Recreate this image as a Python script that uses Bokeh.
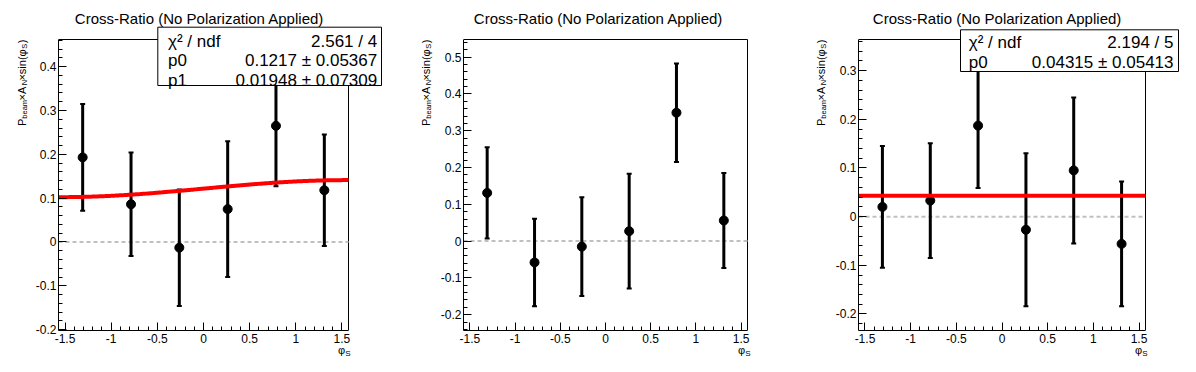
import numpy as np
from bokeh.plotting import figure
from bokeh.layouts import row
from bokeh.models import Label, BoxAnnotation, LinearAxis, FixedTicker, Range1d
from bokeh.embed import file_html
from bokeh.resources import INLINE

# ---------------- data ----------------
phi_s = [-1.309, -0.785, -0.262, 0.262, 0.785, 1.309]

ratio_1 = [0.193, 0.086, -0.013, 0.075, 0.265, 0.118]
error_1 = [0.122, 0.118, 0.133, 0.155, 0.138, 0.127]

ratio_2 = [0.131, -0.058, -0.015, 0.027, 0.349, 0.056]
error_2 = [0.124, 0.119, 0.134, 0.156, 0.134, 0.129]

ratio_3 = [0.020, 0.033, 0.187, -0.027, 0.095, -0.056]
error_3 = [0.125, 0.118, 0.128, 0.157, 0.150, 0.128]

# fit results shown in the stat boxes (p0 + p1*sin(phi_S), and p0)
fit_1_p0 = 0.1217
fit_1_p1 = 0.01948
fit_3_p0 = 0.04315

stat_1_names = ["χ² / ndf", "p0", "p1"]
stat_1_values = ["2.561 / 4", "0.1217 ± 0.05367", "0.01948 ± 0.07309"]
stat_3_names = ["χ² / ndf", "p0"]
stat_3_values = ["2.194 / 5", "0.04315 ± 0.05413"]

title_text = "Cross-Ratio (No Polarization Applied)"
x_tick_values = [-1.5, -1.0, -0.5, 0.0, 0.5, 1.0, 1.5]
x_tick_labels = ["-1.5", "-1", "-0.5", "0", "0.5", "1", "1.5"]
y_tick_values = [-0.2, -0.1, 0.0, 0.1, 0.2, 0.3, 0.4, 0.5]
y_tick_labels = ["-0.2", "-0.1", "0", "0.1", "0.2", "0.3", "0.4", "0.5"]

x_limits = (-np.pi / 2, np.pi / 2)
y_limits = [(-0.202, 0.462), (-0.243, 0.548), (-0.234, 0.364)]

# ---------------- layout (pixels, canvas of each figure) ----------------
FONT = "Liberation Sans"
H = 356
ROOT_TOP, ROOT_BOTTOM = 39, 330
widths = [408, 376, 396]
root_left = [58, 55, 74]
root_right = [348, 339, 361]
border_right = [24, 24, 0]
title_x = [199, 190, 213]
ylabel_x = [21.5, 17.0, 36.7]
xlabel_right = [350, 342, 363]
xlabel_side = ["right", "right", "left"]

NB = "\u00a0"
W_EM = {"S": .667}


def text_w(s, size):
    return sum(W_EM.get(c, .556) for c in s) * size


def lab(text, x, y, size, align="left", angle=0.0, color="black"):
    return Label(x=x, y=y, x_units="canvas", y_units="canvas", text=text,
                 angle=angle, text_align=align, text_baseline="alphabetic",
                 text_font=FONT, text_font_size=f"{size}px", text_color=color)


# y-axis title "P_beam × A_N × sin(phi_S)": main text + subscript line
Y_MAIN = "P" + NB * 6 + "×A" + NB * 2 + "×sin(φ" + NB * 2 + ")"
Y_SUBS = "beam" + NB * 7 + "N" + NB * 15 + "S" + NB * 2

x_minor_all = [round(v, 2) for v in np.arange(-1.5, 1.51, 0.1)]
y_minor_all = [round(v, 3) for v in np.arange(-0.24, 0.56, 0.02)]


def make_panel(i, ys, es):
    w = widths[i]
    ylo, yhi = y_limits[i]
    frame_right = w - border_right[i]
    sx = (root_right[i] - root_left[i]) / (x_limits[1] - x_limits[0])
    sy = (ROOT_BOTTOM - ROOT_TOP) / (yhi - ylo)
    x_end = x_limits[1] + (frame_right - root_right[i]) / sx
    y_end = yhi + ROOT_TOP / sy

    p = figure(width=w, height=H, x_range=Range1d(x_limits[0], x_end),
               y_range=Range1d(ylo, y_end), output_backend="svg",
               toolbar_location=None, title=None,
               min_border_left=root_left[i], min_border_right=border_right[i],
               min_border_top=0, min_border_bottom=H - ROOT_BOTTOM,
               x_axis_type=None, y_axis_type=None)
    p.background_fill_color = "white"
    p.border_fill_color = "white"
    p.outline_line_color = None
    p.xgrid.visible = False
    p.ygrid.visible = False

    yt = [(v, l) for v, l in zip(y_tick_values, y_tick_labels) if ylo <= v <= yhi]
    y_minor = [v for v in y_minor_all if ylo <= v <= yhi]
    xax = LinearAxis(ticker=FixedTicker(ticks=x_tick_values, minor_ticks=x_minor_all),
                     major_label_overrides={v: l for v, l in zip(x_tick_values, x_tick_labels)},
                     bounds=x_limits)
    yax = LinearAxis(ticker=FixedTicker(ticks=[v for v, _ in yt], minor_ticks=y_minor),
                     major_label_overrides={v: l for v, l in yt},
                     bounds=(ylo, yhi))
    for ax, standoff in ((xax, 3), (yax, 2)):
        ax.major_tick_in = 8
        ax.major_tick_out = 0
        ax.minor_tick_in = 4
        ax.minor_tick_out = 0
        ax.axis_line_color = "black"
        ax.major_tick_line_color = "black"
        ax.minor_tick_line_color = "black"
        ax.major_label_text_font = FONT
        ax.major_label_text_font_size = "12px"
        ax.major_label_text_color = "black"
        ax.major_label_standoff = standoff
    p.add_layout(xax, "below")
    p.add_layout(yax, "left")

    # top and right edges of the frame
    p.segment(x0=[x_limits[0], x_limits[1]], y0=[yhi, ylo],
              x1=[x_limits[1], x_limits[1]], y1=[yhi, yhi],
              line_color="black", line_width=1)
    # dashed zero line
    p.segment(x0=[x_limits[0]], y0=[0], x1=[x_limits[1]], y1=[0],
              line_color="#c0c0c0", line_dash="4 3", line_width=2)

    upper = [y + e for y, e in zip(ys, es)]
    lower = [y - e for y, e in zip(ys, es)]
    p.segment(phi_s, lower, phi_s, upper, line_color="black", line_width=3)
    p.scatter(phi_s, upper, marker="dash", size=5, line_width=2, color="black")
    p.scatter(phi_s, lower, marker="dash", size=5, line_width=2, color="black")
    p.scatter(phi_s, ys, marker="circle", size=9, color="black")

    # title (inside the extended frame area)
    p.add_layout(lab(title_text, title_x[i], 18, 15, align="center"))

    # y-axis title, right-aligned to the top of the axis
    p.add_layout(lab(Y_MAIN, ylabel_x[i], ROOT_TOP, 11, align="right", angle=np.pi / 2), "left")
    p.add_layout(lab(Y_SUBS, ylabel_x[i] + 2.5, ROOT_TOP, 7.5, align="right", angle=np.pi / 2), "left")

    # x-axis title phi_S
    s_w = text_w("S", 8)
    p.add_layout(lab("S", xlabel_right[i], 352.5, 8, align="right"), xlabel_side[i])
    p.add_layout(lab("φ", xlabel_right[i] - s_w, 349, 11, align="right"), xlabel_side[i])
    return p


def add_stat_box(p, names, values, left, right, top, bottom, baselines, name_x, value_x):
    p.add_layout(BoxAnnotation(left=left, right=right, top=top, bottom=bottom,
                               left_units="canvas", right_units="canvas",
                               top_units="canvas", bottom_units="canvas",
                               fill_color="white", fill_alpha=1.0,
                               line_color="black", line_width=1, line_alpha=1.0))
    for n, v, b in zip(names, values, baselines):
        p.add_layout(lab(n, name_x, b, 17))
        p.add_layout(lab(v, value_x, b, 17, align="right"))


p1 = make_panel(0, ratio_1, error_1)
xs_fit = np.linspace(x_limits[0], x_limits[1], 200)
p1.line(xs_fit, fit_1_p0 + fit_1_p1 * np.sin(xs_fit), line_color="#ff0000", line_width=4)
add_stat_box(p1, stat_1_names, stat_1_values, 157.3, 381, 26.7, 85,
             [40.5, 60, 79.5], 167.5, 376.7)

p2 = make_panel(1, ratio_2, error_2)

p3 = make_panel(2, ratio_3, error_3)
p3.line(list(x_limits), [fit_3_p0, fit_3_p0], line_color="#ff0000", line_width=4)
add_stat_box(p3, stat_3_names, stat_3_values, 176, 394, 29.3, 71,
             [41.7, 61.7], 184.3, 389)

layout = row(p1, p2, p3)
open("out.html", "w").write(file_html(layout, INLINE))
